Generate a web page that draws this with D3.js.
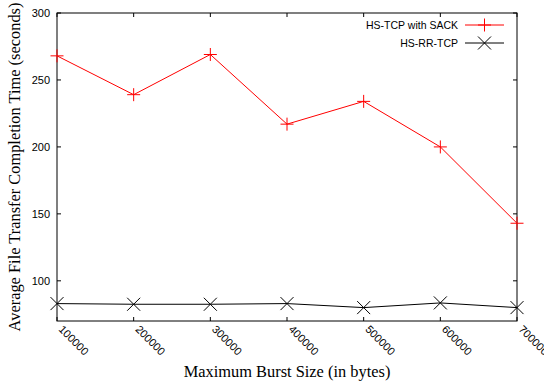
<!DOCTYPE html>
<html>
<head>
<meta charset="utf-8">
<script src="https://cdn.jsdelivr.net/npm/d3@7"></script>
<style>
body { margin:0; background:#fff; }
svg text { fill:#000; }
</style>
</head>
<body>
<svg id="chart" width="544" height="383"></svg>
<script>
// burst sizes (bytes)
var burstSizes = [100000, 200000, 300000, 400000, 500000, 600000, 700000];
// completion time, seconds
var sackTimes = [268, 239, 269, 217, 234, 200, 143];
var rrTimes = [83, 82.5, 82.5, 83, 80, 83.5, 80];
var yTicks = [100, 150, 200, 250, 300];
var seriesNames = ["HS-TCP with SACK", "HS-RR-TCP"];

var margin = {left:57, right:27, top:13, bottom:62};
var W = 544, H = 383;

var svg = d3.select("#chart");

var x = d3.scaleLinear().domain([100000, 700000]).range([margin.left, W - margin.right]);
var y = d3.scaleLinear().domain([70, 300]).range([H - margin.bottom, margin.top]);

// -- frame
svg.append("rect").attr("x", x.range()[0]).attr("y", y.range()[1])
    .attr("width", x.range()[1]-x.range()[0]).attr("height", y.range()[0]-y.range()[1])
    .style("fill","none").style("stroke","#000").style("stroke-width",1);

// -- ticks, inward on all four sides
var tl = 4;
burstSizes.forEach(function(d){
    svg.append("line").attr("x1",x(d)).attr("x2",x(d)).attr("y1",y(70)).attr("y2",y(70)-tl).style("stroke","#000");
    svg.append("line").attr("x1",x(d)).attr("x2",x(d)).attr("y1",y(300)).attr("y2",y(300)+tl).style("stroke","#000");
    svg.append("text").attr("transform","translate("+(x(d)+1)+","+(y(70)+9)+") rotate(45)")
        .style("font-family","Liberation Sans, Arial, sans-serif").style("font-size","11px")
        .text(d);
});
yTicks.forEach(function(d){
    svg.append("line").attr("x1",x.range()[0]).attr("x2",x.range()[0]+tl).attr("y1",y(d)).attr("y2",y(d)).style("stroke","#000");
    svg.append("line").attr("x1",x.range()[1]).attr("x2",x.range()[1]-tl).attr("y1",y(d)).attr("y2",y(d)).style("stroke","#000");
    svg.append("text").attr("x",x.range()[0]-7).attr("y",y(d)).attr("dy","0.35em")
        .attr("text-anchor","end")
        .style("font-family","Liberation Sans, Arial, sans-serif").style("font-size","11px")
        .text(d);
});

// -- axis titles
svg.append("text").attr("x",287).attr("y",377)
    .attr("text-anchor","middle")
    .style("font-family","Liberation Serif, Times New Roman, serif").style("font-size","16.4px")
    .text("Maximum Burst Size (in bytes)");
svg.append("text").attr("transform","translate(20,167) rotate(-90)")
    .attr("text-anchor","middle")
    .style("font-family","Liberation Serif, Times New Roman, serif").style("font-size","16.4px")
    .text("Average File Transfer Completion Time (seconds)");

// -- markers
var ms = 6.5;
function plus(g, cx, cy, col){
    g.append("path").attr("d","M"+(cx-ms)+","+cy+"H"+(cx+ms)+"M"+cx+","+(cy-ms)+"V"+(cy+ms))
        .style("stroke",col).style("fill","none");
}
function cross(g, cx, cy, col){
    g.append("path").attr("d","M"+(cx-ms)+","+(cy-ms)+"L"+(cx+ms)+","+(cy+ms)+"M"+(cx-ms)+","+(cy+ms)+"L"+(cx+ms)+","+(cy-ms))
        .style("stroke",col).style("fill","none");
}

var line = d3.line().x(function(d){return x(d[0]);}).y(function(d){return y(d[1]);});

var series = [
    {name:seriesNames[0], vals:sackTimes, col:"#ff0000", mark:plus},
    {name:seriesNames[1], vals:rrTimes, col:"#000000", mark:cross}
];

series.forEach(function(s, i){
    var pts = burstSizes.map(function(b, j){return [b, s.vals[j]];});
    var g = svg.append("g");
    g.append("path").attr("d", line(pts)).style("stroke",s.col).style("fill","none").style("stroke-width",1);
    pts.forEach(function(p){ s.mark(g, x(p[0]), y(p[1]), s.col); });

    // legend
    var ly = 25 + i*18;
    svg.append("text").attr("x",458).attr("y",ly).attr("dy","0.35em").attr("text-anchor","end")
        .style("font-family","Liberation Sans, Arial, sans-serif").style("font-size","10.5px")
        .text(s.name);
    svg.append("line").attr("x1",465).attr("x2",504).attr("y1",ly).attr("y2",ly).style("stroke",s.col);
    s.mark(svg, 484.5, ly, s.col);
});
</script>
</body>
</html>
